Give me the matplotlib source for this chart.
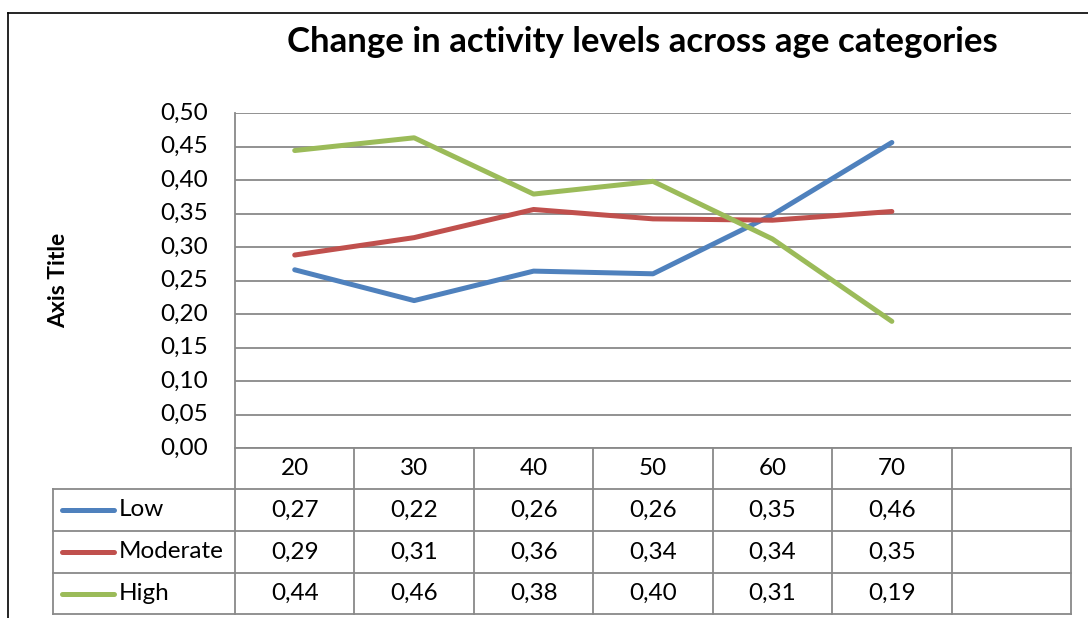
import matplotlib
matplotlib.use("Agg")
import matplotlib.pyplot as plt

plt.rcParams['font.family'] = ['Lato', 'DejaVu Sans']

title = "Change in activity levels across age categories"
y_axis_title = "Axis Title"
categories = ["20", "30", "40", "50", "60", "70"]
series_names = ["Low", "Moderate", "High"]
low = [0.266, 0.220, 0.264, 0.260, 0.348, 0.456]
moderate = [0.288, 0.314, 0.356, 0.342, 0.340, 0.353]
high = [0.444, 0.463, 0.379, 0.398, 0.312, 0.189]
y_ticks = [0.00, 0.05, 0.10, 0.15, 0.20, 0.25, 0.30, 0.35, 0.40, 0.45, 0.50]

series_values = [low, moderate, high]
colors = ["#4F81BD", "#C0504D", "#9BBB59"]
grid_color = "#898989"
FS = 17.5

W, H = 1088, 618
fig = plt.figure(figsize=(W / 100, H / 100), dpi=100)

def fx(px):
    return px / W

def fy(py):
    return 1 - py / H

# plot area in pixels
PL, PR, PT, PB = 235, 1071, 113, 448
ncols = len(categories) + 1

ax = fig.add_axes([fx(PL), fy(PB), fx(PR - PL), (PB - PT) / H])
xs = list(range(len(categories)))
for vals, c in zip(series_values, colors):
    ax.plot(xs, vals, color=c, lw=3.6, solid_capstyle='round', solid_joinstyle='round', zorder=3)
ax.set_xlim(-0.5, ncols - 0.5)
ax.set_ylim(0, 0.5)
ax.set_yticks(y_ticks)
ax.set_yticklabels([f"{t:.2f}".replace(".", ",") for t in y_ticks], fontsize=FS, va='center')
ax.tick_params(axis='y', length=0, pad=19.5)
ax.set_xticks([])
for t in y_ticks:
    ax.axhline(t, color=grid_color, lw=1.3, zorder=1)
for s in ['top', 'right', 'bottom']:
    ax.spines[s].set_visible(False)
ax.spines['left'].set_color(grid_color)
ax.spines['left'].set_linewidth(1.3)
ax.patch.set_alpha(0)

# overlay in pixel coordinates
ov = fig.add_axes([0, 0, 1, 1], zorder=-1)
ov.set_xlim(0, W)
ov.set_ylim(H, 0)
ov.axis('off')

# figure border
ov.plot([8, W + 5], [13, 13], color='black', lw=1.2)
ov.plot([8, 8], [13, H + 5], color='black', lw=1.2)

ov.text(642, 42, title, fontsize=25, fontweight='bold', ha='center', va='center')
ov.text(59, 280, y_axis_title, fontsize=16.5, fontweight='bold', rotation=90, ha='center', va='center')

# data table
row_edges = [448, 489, 531, 573, 614]
LL = 53
colw = (PR - PL) / ncols
col_edges = [PL + k * colw for k in range(ncols + 1)]
for xe in col_edges:
    ov.plot([xe, xe], [row_edges[0], row_edges[-1]], color=grid_color, lw=1.3)
ov.plot([LL, LL], [row_edges[1], row_edges[-1]], color=grid_color, lw=1.3)
ov.plot([PL, PR], [row_edges[0], row_edges[0]], color=grid_color, lw=1.3)
for ye in row_edges[1:]:
    ov.plot([LL, PR], [ye, ye], color=grid_color, lw=1.3)

for i, cat in enumerate(categories):
    cx = PL + (i + 0.5) * colw
    ov.text(cx, (row_edges[0] + row_edges[1]) / 2, cat, fontsize=FS, ha='center', va='center')
for r, (name, vals, c) in enumerate(zip(series_names, series_values, colors)):
    cy = (row_edges[r + 1] + row_edges[r + 2]) / 2
    ov.plot([62, 114], [cy, cy], color=c, lw=3.6, solid_capstyle='round')
    ov.text(119, cy, name, fontsize=FS, ha='left', va='center')
    for i, v in enumerate(vals):
        cx = PL + (i + 0.5) * colw
        ov.text(cx, cy, f"{v:.2f}".replace(".", ","), fontsize=FS, ha='center', va='center')

fig.savefig("out.png", dpi=100)
